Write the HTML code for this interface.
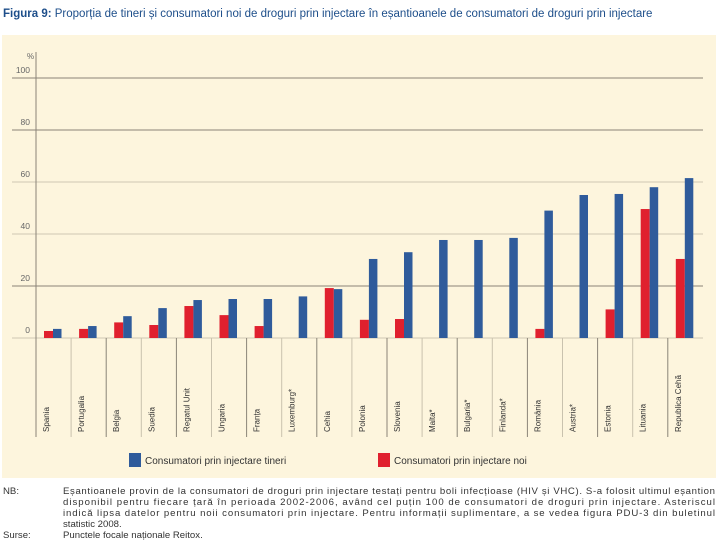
<!DOCTYPE html>
<html><head><meta charset="utf-8"><style>
body{margin:0;width:720px;height:540px;background:#fff;font-family:"Liberation Sans",sans-serif;overflow:hidden}
</style></head><body>
<svg width="720" height="540" xmlns="http://www.w3.org/2000/svg" id="chart">
<text x="3" y="17" font-size="11.5" fill="#1d4e8a"><tspan font-weight="bold">Figura 9:</tspan> Proporția de tineri și consumatori noi de droguri prin injectare în eșantioanele de consumatori de droguri prin injectare</text>
<rect x="2" y="35" width="714" height="443" fill="#fdf5dd"/>
<g id="grid"></g><g id="bars"></g><g id="xlabels"></g>
<rect x="129" y="453" width="12" height="14" fill="#2f5b9b"/>
<text x="145" y="464" font-size="10" fill="#333">Consumatori prin injectare tineri</text>
<rect x="378" y="453" width="12" height="14" fill="#e0202e"/>
<text x="394" y="464" font-size="10" fill="#333">Consumatori prin injectare noi</text>
<g font-size="9.6" fill="#333">
<text x="3" y="494">NB:</text>
<text x="63" y="494" textLength="652">Eșantioanele provin de la consumatori de droguri prin injectare testați pentru boli infecțioase (HIV și VHC). S-a folosit ultimul eșantion</text>
<text x="63" y="505" textLength="652">disponibil pentru fiecare țară în perioada 2002-2006, având cel puțin 100 de consumatori de droguri prin injectare. Asteriscul</text>
<text x="63" y="516" textLength="652">indică lipsa datelor pentru noii consumatori prin injectare. Pentru informații suplimentare, a se vedea figura PDU-3 din buletinul</text>
<text x="63" y="527">statistic 2008.</text>
<text x="3" y="538">Surse:</text>
<text x="63" y="538">Punctele focale naționale Reitox.</text>
</g>
</svg>
<script>
const categories=["Spania","Portugalia","Belgia","Suedia","Regatul Unit","Ungaria","Franța","Luxemburg*","Cehia","Polonia","Slovenia","Malta*","Bulgaria*","Finlanda*","România","Austria*","Estonia","Lituania","Republica Cehă"];
const tineri=[3.5,4.6,8.4,11.5,14.6,15,15,16,18.8,30.4,33,37.7,37.7,38.5,49,55,55.4,58,61.5];
const noi=[2.7,3.5,6,5,12.3,8.8,4.6,null,19.2,7,7.3,null,null,null,3.5,null,11,49.6,30.4];
const yTicks=[0,20,40,60,80,100];
const NS="http://www.w3.org/2000/svg";
const x0=36,cw=35.1,yBase=338,pxPer=2.6;
const Y=v=>yBase-v*pxPer;
const X=i=>x0+i*cw;
function mk(t,a,p){const e=document.createElementNS(NS,t);for(const k in a)e.setAttribute(k,a[k]);p.appendChild(e);return e;}
const g=document.getElementById('grid'),b=document.getElementById('bars'),xl=document.getElementById('xlabels');
yTicks.forEach(v=>{
 const dark=(v===20||v===80||v===100);
 const l=mk('line',{x1:12,x2:703,y1:Y(v),y2:Y(v),stroke:dark?'#8a8478':'#cfc8b4','stroke-width':1},g);
 
 
 const t=mk('text',{x:30,y:Y(v)-5,'font-size':8.5,fill:'#666','text-anchor':'end'},g);
 t.textContent=v;
 
 
});
const pct=mk('text',{x:27,y:59,'font-size':8,fill:'#666'},g);pct.textContent='%';


const ax=mk('line',{x1:36,x2:36,y1:52,y2:338,stroke:'#8a8478'},g);


categories.forEach((c,i)=>{
 const sx=X(i);
 const s=mk('line',{x1:sx,x2:sx,y1:yBase,y2:437,stroke:i%2?'#c9c2ae':'#8a8478'},xl);
 
 
 if(noi[i]!=null){
  const r=mk('rect',{x:sx+8,y:Y(noi[i]),width:9,height:noi[i]*pxPer,fill:'#e0202e'},b);
  
  
 }
 const r2=mk('rect',{x:sx+17,y:Y(tineri[i]),width:8.5,height:tineri[i]*pxPer,fill:'#2f5b9b'},b);
 
 
 const t=mk('text',{x:0,y:0,'font-size':8,fill:'#333',transform:`translate(${sx+13},432) rotate(-90)`},xl);
 t.textContent=c;
 
 
});
</script>
</body></html>
